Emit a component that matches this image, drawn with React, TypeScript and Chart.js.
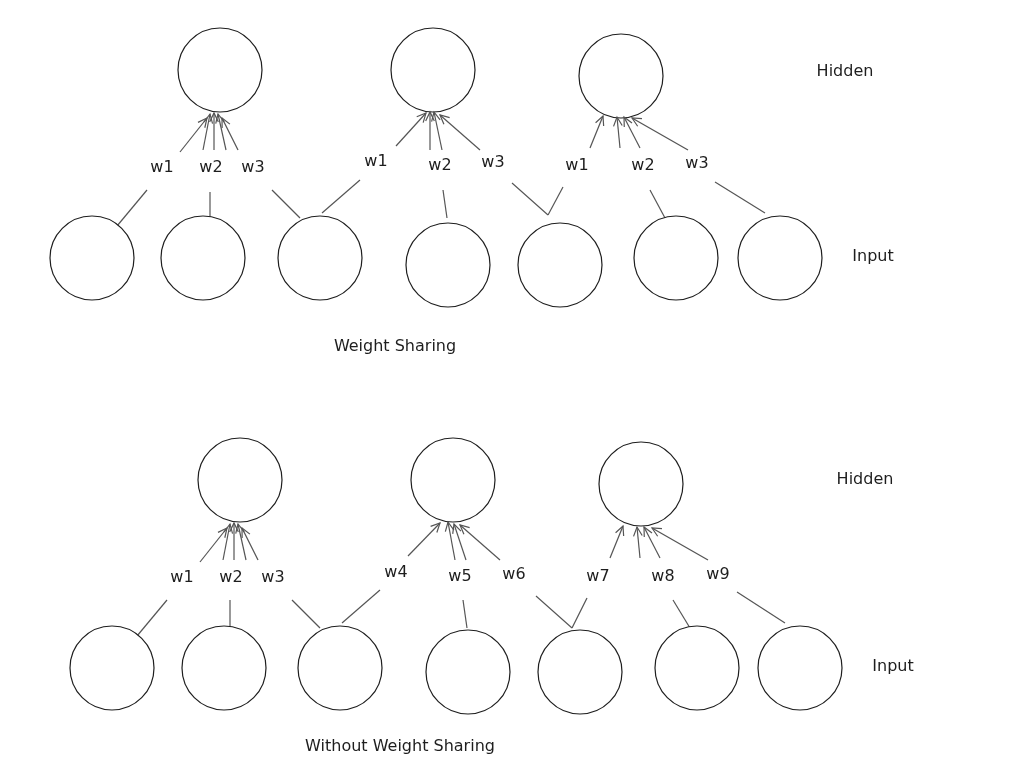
import React, { useEffect, useRef } from 'react';
import { Chart, registerables } from 'chart.js';

Chart.register(...registerables);

type P = { x: number; y: number };

// node centres (diagram units = pixels of the page)
const hiddenNodes: P[] = [
    { x: 220, y: 70 }, { x: 433, y: 70 }, { x: 621, y: 76 },
    { x: 240, y: 480 }, { x: 453, y: 480 }, { x: 641, y: 484 },
];
const inputNodes: P[] = [
    { x: 92, y: 258 }, { x: 203, y: 258 }, { x: 320, y: 258 }, { x: 448, y: 265 },
    { x: 560, y: 265 }, { x: 676, y: 258 }, { x: 780, y: 258 },
    { x: 112, y: 668 }, { x: 224, y: 668 }, { x: 340, y: 668 }, { x: 468, y: 672 },
    { x: 580, y: 672 }, { x: 697, y: 668 }, { x: 800, y: 668 },
];
const nodeRadius = 42;

// plain segments from input nodes towards the weight labels
const lowerEdges: [P, P][] = [
    [{ x: 117, y: 226 }, { x: 147, y: 190 }],
    [{ x: 210, y: 218 }, { x: 210, y: 192 }],
    [{ x: 300, y: 218 }, { x: 272, y: 190 }],
    [{ x: 322, y: 213 }, { x: 360, y: 180 }],
    [{ x: 447, y: 218 }, { x: 443, y: 190 }],
    [{ x: 548, y: 215 }, { x: 512, y: 183 }],
    [{ x: 548, y: 215 }, { x: 563, y: 187 }],
    [{ x: 665, y: 218 }, { x: 650, y: 190 }],
    [{ x: 765, y: 213 }, { x: 715, y: 182 }],
    [{ x: 137, y: 636 }, { x: 167, y: 600 }],
    [{ x: 230, y: 628 }, { x: 230, y: 600 }],
    [{ x: 320, y: 628 }, { x: 292, y: 600 }],
    [{ x: 342, y: 623 }, { x: 380, y: 590 }],
    [{ x: 467, y: 628 }, { x: 463, y: 600 }],
    [{ x: 572, y: 628 }, { x: 536, y: 596 }],
    [{ x: 572, y: 628 }, { x: 587, y: 598 }],
    [{ x: 690, y: 628 }, { x: 673, y: 600 }],
    [{ x: 785, y: 623 }, { x: 737, y: 592 }],
];

// arrows from the weight labels into the hidden nodes
const arrowEdges: [P, P][] = [
    [{ x: 180, y: 152 }, { x: 207, y: 118 }],
    [{ x: 203, y: 150 }, { x: 210, y: 114 }],
    [{ x: 214, y: 150 }, { x: 214, y: 113 }],
    [{ x: 226, y: 150 }, { x: 218, y: 114 }],
    [{ x: 238, y: 150 }, { x: 222, y: 118 }],
    [{ x: 396, y: 146 }, { x: 426, y: 113 }],
    [{ x: 430, y: 150 }, { x: 430, y: 112 }],
    [{ x: 442, y: 150 }, { x: 434, y: 112 }],
    [{ x: 480, y: 150 }, { x: 440, y: 115 }],
    [{ x: 590, y: 148 }, { x: 603, y: 116 }],
    [{ x: 620, y: 148 }, { x: 617, y: 117 }],
    [{ x: 640, y: 148 }, { x: 624, y: 117 }],
    [{ x: 688, y: 150 }, { x: 632, y: 118 }],
    [{ x: 200, y: 562 }, { x: 227, y: 528 }],
    [{ x: 223, y: 560 }, { x: 230, y: 524 }],
    [{ x: 234, y: 560 }, { x: 234, y: 523 }],
    [{ x: 246, y: 560 }, { x: 238, y: 524 }],
    [{ x: 258, y: 560 }, { x: 242, y: 528 }],
    [{ x: 408, y: 556 }, { x: 440, y: 523 }],
    [{ x: 455, y: 560 }, { x: 448, y: 522 }],
    [{ x: 466, y: 560 }, { x: 454, y: 524 }],
    [{ x: 500, y: 560 }, { x: 460, y: 525 }],
    [{ x: 610, y: 558 }, { x: 623, y: 526 }],
    [{ x: 640, y: 558 }, { x: 637, y: 527 }],
    [{ x: 660, y: 558 }, { x: 644, y: 527 }],
    [{ x: 708, y: 560 }, { x: 652, y: 528 }],
];

const weightLabels: string[] = [
    'w1', 'w2', 'w3', 'w1', 'w2', 'w3', 'w1', 'w2', 'w3',
    'w1', 'w2', 'w3', 'w4', 'w5', 'w6', 'w7', 'w8', 'w9',
];
const weightLabelPos: P[] = [
    { x: 162, y: 168 }, { x: 211, y: 168 }, { x: 253, y: 168 },
    { x: 376, y: 162 }, { x: 440, y: 166 }, { x: 493, y: 163 },
    { x: 577, y: 166 }, { x: 643, y: 166 }, { x: 697, y: 164 },
    { x: 182, y: 578 }, { x: 231, y: 578 }, { x: 273, y: 578 },
    { x: 396, y: 573 }, { x: 460, y: 577 }, { x: 514, y: 575 },
    { x: 598, y: 577 }, { x: 663, y: 577 }, { x: 718, y: 575 },
];

const captions: string[] = ['Hidden', 'Input', 'Weight Sharing', 'Hidden', 'Input', 'Without Weight Sharing'];
const captionPos: P[] = [
    { x: 845, y: 72 }, { x: 873, y: 257 }, { x: 395, y: 347 },
    { x: 865, y: 480 }, { x: 893, y: 667 }, { x: 400, y: 747 },
];

const textPlugin = {
    id: 'diagramText',
    afterDatasetsDraw(chart: Chart) {
        const { ctx, scales } = chart;
        const sx = scales.x, sy = scales.y;
        ctx.save();
        ctx.strokeStyle = '#555';
        ctx.lineWidth = 1.2;
        arrowEdges.forEach(([a, b]) => {
            const ax = sx.getPixelForValue(a.x), ay = sy.getPixelForValue(a.y);
            const bx = sx.getPixelForValue(b.x), by = sy.getPixelForValue(b.y);
            const ang = Math.atan2(by - ay, bx - ax);
            ctx.beginPath();
            ctx.moveTo(bx - 10 * Math.cos(ang - 0.45), by - 10 * Math.sin(ang - 0.45));
            ctx.lineTo(bx, by);
            ctx.lineTo(bx - 10 * Math.cos(ang + 0.45), by - 10 * Math.sin(ang + 0.45));
            ctx.stroke();
        });
        ctx.fillStyle = '#1e1e1e';
        ctx.textAlign = 'center';
        ctx.textBaseline = 'middle';
        ctx.font = '16px "DejaVu Sans"';
        weightLabels.forEach((t, i) => {
            ctx.fillText(t, sx.getPixelForValue(weightLabelPos[i].x), sy.getPixelForValue(weightLabelPos[i].y));
        });
        captions.forEach((t, i) => {
            ctx.fillText(t, sx.getPixelForValue(captionPos[i].x), sy.getPixelForValue(captionPos[i].y));
        });
        ctx.restore();
    },
};

export default function App() {
    const canvasRef = useRef<HTMLCanvasElement>(null);

    useEffect(() => {
        document.body.style.margin = '0';
        if (!canvasRef.current) return;
        const segs = [...lowerEdges, ...arrowEdges].map(([a, b]) => ({
            type: 'line' as const,
            data: [a, b],
            borderColor: '#555',
            borderWidth: 1.2,
            pointRadius: 0,
            showLine: true,
            fill: false,
        }));
        const chart = new Chart(canvasRef.current, {
            type: 'scatter',
            data: {
                datasets: [
                    {
                        data: [...hiddenNodes, ...inputNodes],
                        pointRadius: nodeRadius,
                        pointBackgroundColor: '#ffffff',
                        pointBorderColor: '#1e1e1e',
                        pointBorderWidth: 1.2,
                        order: -1,
                        clip: false,
                    } as any,
                    ...segs,
                ],
            },
            options: {
                animation: false,
                responsive: false,
                layout: { padding: 0, autoPadding: false },
                plugins: { legend: { display: false }, tooltip: { enabled: false } },
                scales: {
                    x: { type: 'linear', display: false, min: 0, max: 1025 },
                    y: { type: 'linear', display: false, min: 0, max: 768, reverse: true },
                },
            },
            plugins: [textPlugin],
        });
        return () => chart.destroy();
    }, []);

    return (
        <div style={{ width: 1025, height: 768, background: '#fff' }}>
            <canvas ref={canvasRef} width={1025} height={768} />
        </div>
    );
}
